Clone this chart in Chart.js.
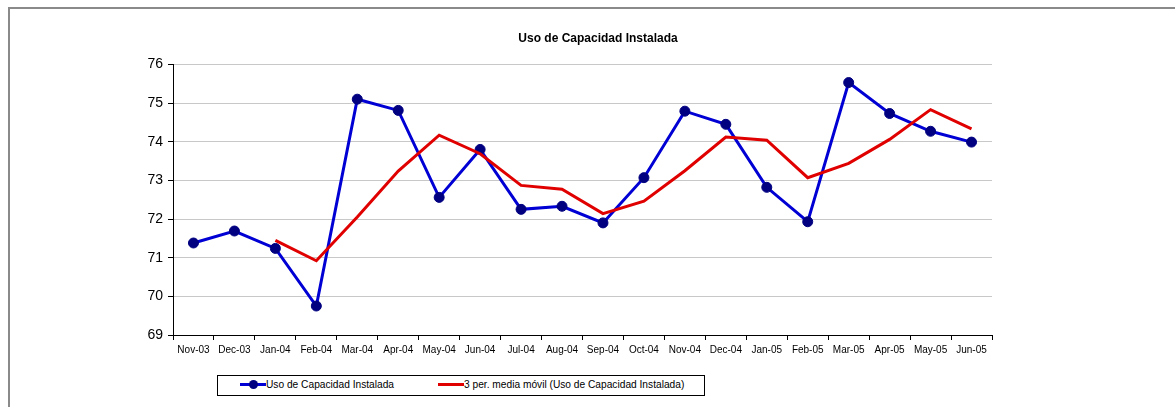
<!DOCTYPE html>
<html>
<head>
<meta charset="utf-8">
<script src="https://cdn.jsdelivr.net/npm/chart.js@4/dist/chart.umd.min.js"></script>
<style>
  html, body { margin: 0; padding: 0; background: #fff; overflow: hidden; }
  body { width: 1175px; height: 407px; position: relative; font-family: "Liberation Sans", Arial, sans-serif; }
  #marco { position: absolute; left: 8px; top: 7px; width: 1200px; height: 420px;
           border-left: 2px solid #8a8a8a; border-top: 2px solid #8a8a8a; }
  #caja { position: absolute; left: 9px; top: 8px; width: 1178px; height: 399px; }
  #leyenda { position: absolute; left: 217px; top: 375px; width: 486px; height: 19px;
             border: 1px solid #000; background: #fff; font-size: 10.2px; color: #000; }
  .item { position: absolute; top: 3px; white-space: nowrap; }
  .muestra { display: inline-block; position: relative; width: 26px; height: 3px; vertical-align: middle; top: -1px; }
  .punto { position: absolute; left: 9px; top: -3px; width: 9px; height: 9px; border-radius: 50%; background: #000080; }
</style>
</head>
<body>
<div id="marco"></div>
<div id="caja"><canvas id="usoChart" width="1178" height="399"></canvas></div>
<div id="leyenda">
  <div class="item" style="left:22px"><span class="muestra" style="background:#0000d4"><span class="punto"></span></span>Uso de Capacidad Instalada</div>
  <div class="item" style="left:220px"><span class="muestra" style="background:#e00000"></span>3 per. media móvil (Uso de Capacidad Instalada)</div>
</div>
<script>
// Datos
var meses = ['Nov-03', 'Dec-03', 'Jan-04', 'Feb-04', 'Mar-04', 'Apr-04', 'May-04', 'Jun-04', 'Jul-04', 'Aug-04',
             'Sep-04', 'Oct-04', 'Nov-04', 'Dec-04', 'Jan-05', 'Feb-05', 'Mar-05', 'Apr-05', 'May-05', 'Jun-05'];
var usoCapacidad = [71.38, 71.69, 71.24, 69.75, 75.10, 74.81, 72.56, 73.80, 72.25, 72.33,
                    71.90, 73.07, 74.79, 74.45, 72.82, 71.93, 75.53, 74.73, 74.27, 73.99];
var mediaMovil = [null, null, 71.45, 70.92, 72.05, 73.24, 74.17, 73.69, 72.87, 72.77,
                  72.14, 72.46, 73.25, 74.12, 74.04, 73.07, 73.44, 74.06, 74.83, 74.33];
var ticksY = [69, 70, 71, 72, 73, 74, 75, 76];

var fuente = '"Liberation Sans", Arial, sans-serif';

document.addEventListener('DOMContentLoaded', function () {
    var ctx = document.getElementById('usoChart').getContext('2d');
    new Chart(ctx, {
        type: 'line',
        data: {
            labels: meses,
            datasets: [{
                label: 'Uso de Capacidad Instalada',
                data: usoCapacidad,
                borderColor: '#0000d4',
                borderWidth: 3,
                pointRadius: 5,
                pointBackgroundColor: '#000080',
                pointBorderColor: '#000080',
                pointBorderWidth: 1,
                tension: 0,
                order: 2
            }, {
                label: '3 per. media móvil (Uso de Capacidad Instalada)',
                data: mediaMovil,
                borderColor: '#e00000',
                borderWidth: 3,
                pointRadius: 0,
                tension: 0,
                order: 1
            }]
        },
        options: {
            responsive: false,
            animation: false,
            layout: { padding: { top: 23, bottom: 47, left: 0, right: 0 } },
            plugins: {
                legend: { display: false },
                tooltip: { enabled: false },
                title: {
                    display: true,
                    text: 'Uso de Capacidad Instalada',
                    color: '#000',
                    font: { family: fuente, size: 12, weight: 'bold' },
                    padding: { top: 0, bottom: 19 }
                }
            },
            scales: {
                x: {
                    offset: true,
                    grid: { display: true, drawOnChartArea: false, drawTicks: true, tickLength: 5, color: '#000', offset: true },
                    border: { color: '#000', width: 1 },
                    ticks: { color: '#000', font: { family: fuente, size: 10 }, padding: 4, maxRotation: 0, autoSkip: false }
                },
                y: {
                    min: 69,
                    max: 76,
                    afterBuildTicks: function (escala) {
                        escala.ticks = ticksY.map(function (v) { return { value: v }; });
                    },
                    afterFit: function (escala) { escala.width = 164; },
                    grid: { color: '#c8c8c8', lineWidth: 1, tickLength: 5, tickColor: '#000' },
                    border: { color: '#000', width: 1 },
                    ticks: { color: '#000', font: { family: fuente, size: 14 }, padding: 5 }
                },
                derecha: {
                    type: 'linear',
                    position: 'right',
                    display: true,
                    grid: { display: false },
                    border: { display: false },
                    ticks: { display: false },
                    afterFit: function (escala) { escala.width = 195; }
                }
            }
        }
    });
});
</script>
</body>
</html>
